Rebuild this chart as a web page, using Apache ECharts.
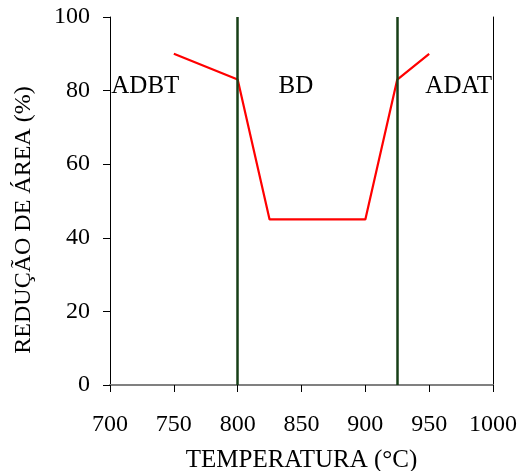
<!DOCTYPE html>
<html>
<head>
<meta charset="utf-8">
<script src="https://cdn.jsdelivr.net/npm/echarts@6/dist/echarts.min.js"></script>
<style>
  html, body { margin: 0; padding: 0; background: #fff; }
  #chart { width: 520px; height: 471px; }
</style>
</head>
<body>
<div id="chart"></div>
<script>
// curva de redução de área
const temperatura = [750, 800, 825, 850, 900, 925, 950]
const reducao = [90, 83, 45, 45, 45, 83, 90]
// limites das regiões
const limites = [800, 925]
// rótulos das regiões
const regioes = ['ADBT', 'BD', 'ADAT']
const regiaoX = [701, 832, 947]
const regiaoY = [81, 81, 81]

const fonte = 'Liberation Serif, Times New Roman, serif'
const myChart = echarts.init(document.getElementById('chart'))

const option = {
  animation: false,
  grid: { left: 110, right: 27, top: 17, bottom: 86, outerBoundsMode: 'none' },
  xAxis: [{
    type: 'value',
    min: 700,
    max: 1000,
    interval: 50,
    name: 'TEMPERATURA (°C)',
    nameLocation: 'middle',
    nameGap: 63,
    nameTextStyle: { fontFamily: fonte, fontSize: 25, color: '#000' },
    axisLine: { lineStyle: { color: '#000', width: 1 } },
    axisTick: { show: true, length: 7, lineStyle: { color: '#000' } },
    axisLabel: {
      margin: 28,
      fontFamily: fonte,
      fontSize: 24,
      color: '#000',
      formatter: v => String(v)
    },
    splitLine: { show: false }
  }, {
    // borda superior cinza
    type: 'value',
    position: 'top',
    min: 700,
    max: 1000,
    axisLine: { show: true, lineStyle: { color: '#808080', width: 2 } },
    axisTick: { show: false },
    axisLabel: { show: false },
    splitLine: { show: false }
  }],
  yAxis: [{
    type: 'value',
    min: 0,
    max: 100,
    interval: 20,
    name: 'REDUÇÃO DE ÁREA (%)',
    nameLocation: 'middle',
    nameRotate: 90,
    nameGap: 74,
    // título um pouco abaixo do centro, como no original
    nameTextStyle: { fontFamily: fonte, fontSize: 24, color: '#000', padding: [0, 38, 0, 0] },
    axisLine: { show: true, lineStyle: { color: '#000', width: 1 } },
    axisTick: { show: true, length: 7, lineStyle: { color: '#000' } },
    axisLabel: { margin: 20, fontFamily: fonte, fontSize: 24, color: '#000' },
    splitLine: { show: false }
  }, {
    // borda direita
    type: 'value',
    position: 'right',
    min: 0,
    max: 100,
    axisLine: { show: true, lineStyle: { color: '#000', width: 1 } },
    axisTick: { show: false },
    axisLabel: { show: false },
    splitLine: { show: false }
  }],
  series: [
    {
      type: 'line',
      data: temperatura.map((t, i) => [t, reducao[i]]),
      symbol: 'none',
      lineStyle: { color: '#ff0000', width: 2.2 },
      z: 3
    },
    {
      type: 'line',
      data: [],
      markLine: {
        silent: true,
        symbol: 'none',
        label: { show: false },
        lineStyle: { color: '#173f17', width: 2.5, type: 'solid' },
        data: limites.map(v => ({ xAxis: v }))
      },
      z: 2
    },
    {
      type: 'scatter',
      symbolSize: 0,
      silent: true,
      data: regioes.map((r, i) => ({ value: [regiaoX[i], regiaoY[i]], name: r })),
      label: {
        show: true,
        position: 'right',
        distance: 0,
        formatter: p => p.name,
        fontFamily: fonte,
        fontSize: 25,
        color: '#000',
        opacity: 1,
        textBorderWidth: 0
      },
      z: 4
    }
  ]
}
myChart.setOption(option)
</script>
</body>
</html>
